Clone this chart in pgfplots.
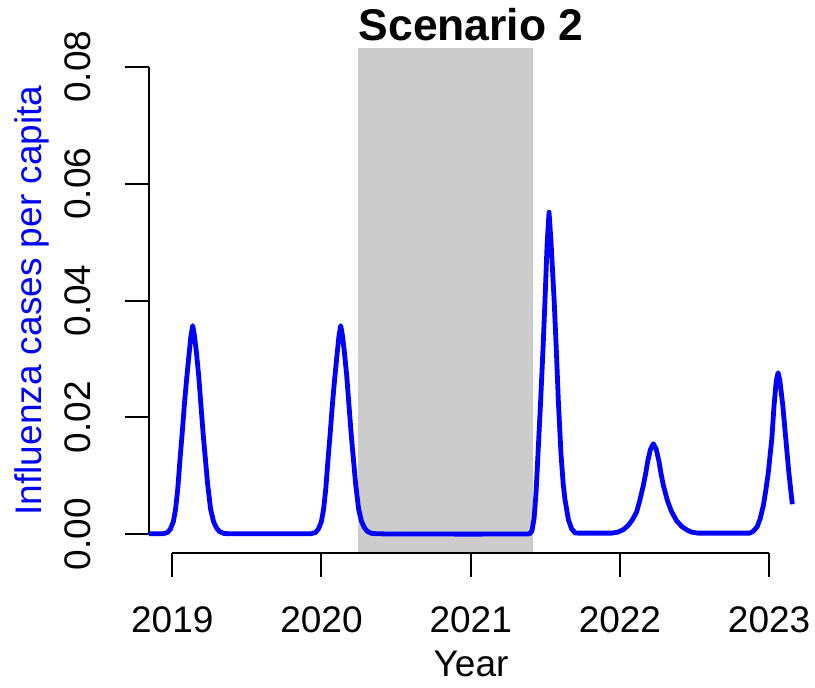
\documentclass[border=0pt]{standalone}
\usepackage{fontspec}
\setmainfont{Liberation Sans}
\usepackage{pgfplots}
\pgfplotsset{compat=1.18}
\definecolor{shade}{HTML}{CCCCCC}
\begin{document}
\begin{tikzpicture}
\begin{axis}[
  at={(111.75pt,100.5pt)}, anchor=south west,
  scale only axis, width=483pt, height=378.75pt,
  xmin=2018.844, xmax=2023.16,
  ymin=-0.0032, ymax=0.0832,
  clip=false,
  scaled y ticks=false, scaled x ticks=false,
  axis x line*=bottom, axis y line*=left,
  axis line style={draw=none},
  tick align=outside,
  major tick length=18pt,
  tick style={black, line width=1.5pt},
  xtick={2019,2020,2021,2022,2023},
  xticklabels={2019,2020,2021,2022,2023},
  ytick={0,0.02,0.04,0.06,0.08},
  yticklabels={0.00,0.02,0.04,0.06,0.08},
  minor tick num=0,
  font=\fontsize{27.75}{33}\selectfont,
  xticklabel shift=21.75pt,
  yticklabel shift=26.25pt,
  xticklabel style={anchor=north, inner sep=0pt},
  yticklabel style={rotate=90, anchor=base, inner sep=0pt},
  xlabel={Year},
  ylabel={Influenza cases per capita},
  every axis x label/.style={at={(axis description cs:0.5,-0.2446)}, anchor=base, inner sep=0pt},
  every axis y label/.style={at={(axis description cs:-0.1666,0.5)}, rotate=90, anchor=base, inner sep=0pt, text=blue},
  title={Scenario 2},
  every axis title/.style={at={(axis description cs:0.5,1.0158)}, anchor=base, inner sep=0pt, font=\fontsize{33.3}{40}\selectfont\bfseries},
]
% intervention period
\addplot[fill=shade, draw=none] coordinates {(2020.245,-0.0032) (2020.245,0.0832) (2021.42,0.0832) (2021.42,-0.0032)} -- cycle;
% axis lines (R style, from first to last tick)
\addplot[black, line width=1.5pt] coordinates {(2019,-0.0032) (2023,-0.0032)};
\addplot[black, line width=1.5pt] coordinates {(2018.844,0) (2018.844,0.08)};
% influenza series
\addplot[blue, line width=3.6pt, line join=round] coordinates {
(2018.844,0.0001) (2018.9,0.0001) (2018.937,0.0001) (2018.967,0.00029) (2018.987,0.00089)
(2019.007,0.00214) (2019.022,0.00428) (2019.037,0.00785) (2019.052,0.01285) (2019.067,0.01749)
(2019.082,0.02249) (2019.097,0.02678) (2019.112,0.0307) (2019.125,0.03392) (2019.137,0.0357)
(2019.149,0.03392) (2019.162,0.03106) (2019.177,0.02713) (2019.192,0.02213) (2019.207,0.01714)
(2019.222,0.01285) (2019.237,0.00857) (2019.257,0.00428) (2019.277,0.00214) (2019.297,0.00107)
(2019.317,0.00046) (2019.347,0.00014) (2019.377,0.0001)
(2019.6,0.0001) (2019.929,0.0001) (2019.959,0.00029) (2019.979,0.00089)
(2019.999,0.00214) (2020.014,0.00428) (2020.029,0.00785) (2020.044,0.01285) (2020.059,0.01749)
(2020.074,0.02249) (2020.089,0.02678) (2020.104,0.0307) (2020.117,0.03392) (2020.129,0.0357)
(2020.141,0.03392) (2020.154,0.03106) (2020.169,0.02713) (2020.184,0.02213) (2020.199,0.01714)
(2020.214,0.01285) (2020.229,0.00857) (2020.249,0.00428) (2020.269,0.00214) (2020.289,0.00107)
(2020.309,0.00046) (2020.339,0.00014) (2020.369,0.0001)
(2020.45,0.00005) (2021.0,0.00003) (2021.38,0.00005)
(2021.395,0.0001) (2021.41,0.00055) (2021.425,0.00276) (2021.438,0.00716) (2021.45,0.01322)
(2021.469,0.02298) (2021.485,0.03196) (2021.498,0.04011) (2021.512,0.04959) (2021.525,0.0551)
(2021.538,0.05014) (2021.559,0.04011) (2021.575,0.03086) (2021.587,0.02298) (2021.605,0.01378)
(2021.62,0.00854) (2021.632,0.0059) (2021.655,0.00248) (2021.675,0.00099) (2021.70,0.00022)
(2021.725,0.0002) (2021.8,0.0002) (2021.944,0.0002)
(2021.984,0.00035) (2022.024,0.00081) (2022.056,0.00153) (2022.084,0.0025) (2022.112,0.00383)
(2022.134,0.00586) (2022.157,0.00837) (2022.174,0.0106) (2022.186,0.01244) (2022.204,0.01448)
(2022.224,0.0155) (2022.244,0.01448) (2022.262,0.01244) (2022.274,0.0106) (2022.291,0.00837)
(2022.319,0.00571) (2022.347,0.00383) (2022.379,0.00234) (2022.414,0.00135) (2022.454,0.00066)
(2022.484,0.00035) (2022.524,0.0002) (2022.7,0.0002) (2022.87,0.0002)
(2022.894,0.00053) (2022.92,0.0013) (2022.94,0.00267) (2022.9615,0.00495) (2022.98,0.00789)
(2022.995,0.01066) (2023.018,0.01637) (2023.033,0.02205) (2023.048,0.02628) (2023.06,0.02765)
(2023.072,0.02628) (2023.0915,0.02205) (2023.1116,0.01637) (2023.1317,0.01066) (2023.1555,0.00514)
};
\end{axis}
\pgfresetboundingbox
\path[use as bounding box] (0,0) rectangle (611.25pt,515.25pt);
\end{tikzpicture}
\end{document}
